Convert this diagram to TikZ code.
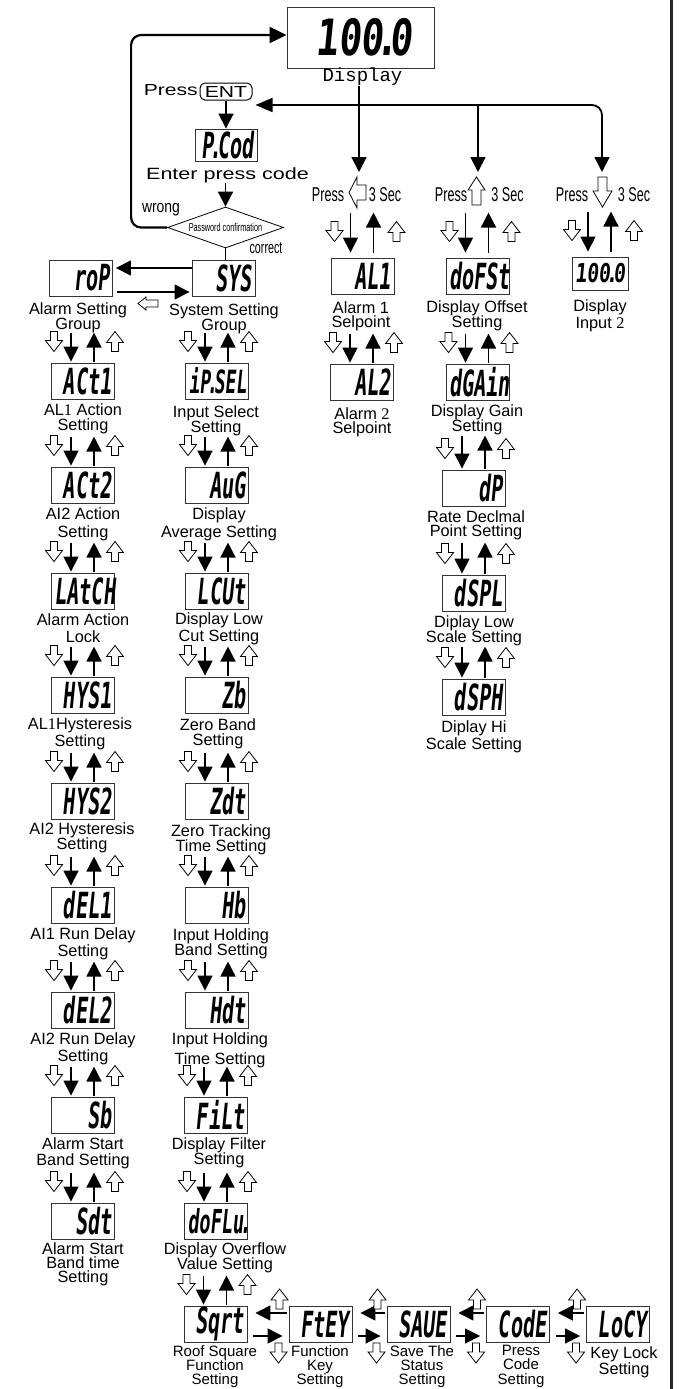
\documentclass[tikz,border=0pt]{standalone}
\usepackage{fontspec}
\setmainfont{Liberation Sans}
\newfontfamily\segf{DejaVu Sans Mono}[FakeStretch=0.56,FakeSlant=0.1]
\newfontfamily\segw{DejaVu Sans Mono}[FakeStretch=0.75,FakeSlant=0.1]
\newfontfamily\narf{Liberation Sans}[FakeStretch=0.63]
\newfontfamily\widf{Liberation Sans}[FakeStretch=1.32]
\newfontfamily\monof{Liberation Mono}
\newfontfamily\serf{Liberation Serif}
\usetikzlibrary{arrows.meta,shapes.geometric}

\newcommand\pdot{\hbox to 0.12em{\hss.\hss}}
\newcommand\lblfs{16.3}

\tikzset{
  every node/.style={inner sep=0pt},
  disp/.style={draw=black!80, line width=0.9pt, minimum height=36pt, inner xsep=3pt,
    text width=57pt, align=right, font={\segf\bfseries\fontsize{36}{36}\selectfont}},
  topdisp/.style={draw=black!80, line width=0.9pt, minimum height=61pt, inner xsep=22pt,
    text width=103pt, align=right, font={\segw\bfseries\fontsize{50}{50}\selectfont}},
  smalldisp/.style={draw=black!80, line width=0.9pt, minimum height=33pt, inner xsep=2pt,
    text width=52pt, align=center, font={\segw\bfseries\fontsize{26}{26}\selectfont}},
  lbl/.style={align=center},
  nar/.style={font={\narf\fontsize{20}{20}\selectfont}},
  blk/.style={line width=1.5pt, -{Triangle[width=15pt,length=15pt]}},
  med/.style={line width=1.8pt, -{Triangle[width=15pt,length=15pt]}},
  big/.style={line width=2.2pt, -{Triangle[width=16pt,length=17pt]}},
  hol/.style={draw=black, fill=white, line width=0.8pt, line join=miter},
  hdown/.pic={\draw[hol] (-3.5,0) -- (3.5,0) -- (3.5,9) -- (8.5,9) -- (0,20) -- (-8.5,9) -- (-3.5,9) -- cycle;},
  hup/.pic={\draw[hol] (0,0) -- (8.5,11) -- (3.5,11) -- (3.5,20) -- (-3.5,20) -- (-3.5,11) -- (-8.5,11) -- cycle;},
  hleft/.pic={\draw[hol] (0,0) -- (8,-6.5) -- (8,-3.5) -- (20,-3.5) -- (20,3.5) -- (8,3.5) -- (8,6.5) -- cycle;},
  kleft/.pic={\draw[hol] (0,0) -- (8,-15.5) -- (8,-7.5) -- (17,-7.5) -- (17,7.5) -- (8,7.5) -- (8,15.5) -- cycle;},
  kup/.pic={\draw[hol] (0,0) -- (8.5,13) -- (4.5,13) -- (4.5,28) -- (-4.5,28) -- (-4.5,13) -- (-8.5,13) -- cycle;},
  kdown/.pic={\draw[hol] (-4.5,0) -- (4.5,0) -- (4.5,14) -- (9.5,14) -- (0,30) -- (-9.5,14) -- (-4.5,14) -- cycle;},
}

% #1 baselineskip, #2 name, #3 x, #4 y, #5 display text, #6 label x, #7 label top, #8 label
\newcommand\mkunit[8][15.5]{%
  \node[disp] (#2) at (#3,#4) {#5};
  \node[lbl, anchor=north, font={\fontsize{\lblfs}{#1}\selectfont\lineskiplimit=-20pt}] (#2l) at (#6,#7) {#8};
}
\newcommand\vlink[2][30]{%
  \draw[blk] ([xshift=-12pt,yshift=#1pt]#2.north) -- ([xshift=-12pt,yshift=1pt]#2.north);
  \draw[blk] ([xshift=11pt,yshift=1pt]#2.north) -- ([xshift=11pt,yshift=#1pt]#2.north);
  \pic at ([xshift=-29pt,yshift=31pt]#2.north) {hdown};
  \pic at ([xshift=32pt,yshift=31pt]#2.north) {hup};
}
\newcommand\vlinktop[1]{%
  \draw[blk] ([xshift=-12pt,yshift=45pt]#1.north) -- ([xshift=-12pt,yshift=5pt]#1.north);
  \draw[blk] ([xshift=11pt,yshift=5pt]#1.north) -- ([xshift=11pt,yshift=45pt]#1.north);
  \pic at ([xshift=-28pt,yshift=36pt]#1.north) {hdown};
  \pic at ([xshift=34pt,yshift=36pt]#1.north) {hup};
}
\newcommand\hlink[2]{%
  \draw[blk, shorten <=2pt, shorten >=8pt] ([yshift=11pt]#2.west) -- ([yshift=11pt]#1.east);
  \draw[blk, shorten <=6pt, shorten >=6pt] ([yshift=-12pt]#1.east) -- ([yshift=-12pt]#2.west);
  \pic at ([xshift=-9pt,yshift=35pt]#2.west) {hup};
  \pic at ([xshift=-10pt,yshift=-19pt]#2.west) {hdown};
}

\begin{document}
\begin{tikzpicture}[x=1pt,y=-1pt]
\fill[white] (0,0) rectangle (683,1389);
\useasboundingbox (0,0) rectangle (683,1389);
\draw[line width=3pt, black!85] (671,0) -- (671,1389);

% ---------- top part ----------
\node[topdisp] (disp) at (360.5,37.5) {100\pdot0};
\node[font={\monof\fontsize{19}{19}\selectfont}] (dlab) at (362.5,77) {Display};
\node[font={\widf\fontsize{16}{16}\selectfont}, anchor=east] (press) at (198,90) {Press};
\node[draw, rounded corners=5pt, line width=1pt, minimum width=52pt, minimum height=17pt,
      font={\widf\fontsize{16}{16}\selectfont}] (ent) at (226,91.5) {ENT};
\node[disp, text width=56pt, minimum height=32pt] (pcod) at (226,145) {P\pdot Cod};
\node[font={\widf\fontsize{16.3}{16}\selectfont}] (epc) at (227.5,175) {Enter press code};
\node[diamond, draw, line width=0.8pt, minimum width=116pt, minimum height=41pt, aspect=2.8,
      font={\narf\fontsize{11.5}{11.5}\selectfont}] (dia) at (225.5,227.5) {Password confirmation};
\node[font={\fontsize{17}{17}\selectfont}] (wrong) at (161,210) {\scalebox{0.82}[1]{wrong}};
\node[font={\narf\fontsize{17}{17}\selectfont}] (correct) at (266,248) {correct};

\draw[med] (ent.south) -- (pcod.north);
\draw[med] (epc.south -| dia.north) -- (dia.north);
\draw[big, rounded corners=10pt] (dia.west) -- ++(-36,0) |- ([yshift=2.5pt]disp.west);

% press groups
\node[nar] (pr1) at (328,195) {Press};
\node[nar] (sec1) at (385,195) {3 Sec};
\pic at (349,192.5) {kleft};
\coordinate (k1) at (359,172);
\node[nar] (pr2) at (451,195) {Press};
\node[nar] (sec2) at (507.5,195) {3 Sec};
\pic at (476.5,177) {kup};
\coordinate (k2) at (478,172);
\node[nar] (pr3) at (572,195) {Press};
\node[nar] (sec3) at (634,195) {3 Sec};
\pic at (602.5,177) {kdown};
\coordinate (k3) at (602,172);
\coordinate (j2) at (478,105);

\draw[med] (dlab.south -| k1) -- (k1);
\draw[med] (j2) -- (k2);
\draw[med, {Triangle[width=14pt,length=17pt]}-{Triangle[width=15pt,length=15pt]}, rounded corners=10pt]
   ([xshift=3pt,yshift=-13.5pt]ent.east) -| (k3);

% ---------- left column ----------
\mkunit{roP}{81}{278}{roP}{78}{302}{Alarm Setting\\Group}
\mkunit{act1}{83}{381}{ACt1}{83}{403}{AL{\serf 1} Action\\Setting}
\mkunit[18]{act2}{83}{485}{ACt2}{83}{507}{AI2 Action\\Setting}
\mkunit[17]{latch}{83}{591}{LAtCH}{83}{613}{Alarm Action\\Lock}
\mkunit[17]{hys1}{83}{695}{HYS1}{80}{717}{AL{\serf 1}Hysteresis\\Setting}
\mkunit{hys2}{83}{801}{HYS2}{82}{822}{AI2 Hysteresis\\Setting}
\mkunit[17]{del1}{83}{905}{dEL1}{83}{927}{AI1 Run Delay\\Setting}
\mkunit[17]{del2}{83}{1010}{dEL2}{83}{1032}{AI2 Run Delay\\Setting}
\mkunit[16]{sb}{83}{1115}{Sb}{83}{1137}{Alarm Start\\Band Setting}
\mkunit[14]{sdt}{83}{1221}{Sdt}{83}{1242}{Alarm Start\\Band time\\Setting}

% ---------- right column ----------
\mkunit{sys}{223.5}{278}{SYS}{224}{303}{System Setting\\Group}
\mkunit{ipsel}{217}{381}{{\fontsize{32}{32}\selectfont iP\pdot SEL}}{216}{405}{Input Select\\Setting}
\mkunit[18]{aug}{217}{485}{AuG}{219}{507}{Display\\Average Setting}
\mkunit[17]{lcut}{217}{591}{LCUt}{219}{612}{Display Low\\Cut Setting}
\mkunit{zb}{217}{695}{Zb}{218}{718}{Zero Band\\Setting}
\mkunit{zdt}{217}{801}{Zdt}{221}{824}{Zero Tracking\\Time Setting}
\mkunit{hb}{217}{905}{Hb}{221}{928}{Input Holding\\Band Setting}
\mkunit[20]{hdt}{217}{1010}{Hdt}{220}{1032}{Input Holding\\Time Setting}
\mkunit{filt}{216}{1115}{FiLt}{219}{1137}{Display Filter\\Setting}
\mkunit{dofl}{216}{1221}{{\fontsize{33}{33}\selectfont doFLu\pdot}}{225}{1242}{Display Overflow\\Value Setting}

\draw[blk, shorten >=3pt] ([yshift=10pt]sys.west) -- ([yshift=10pt]roP.east);
\draw[blk, shorten <=4pt, shorten >=2pt] ([yshift=-14pt]roP.east) -- ([yshift=-14pt]sys.west);
\pic at (138,303.5) {hleft};
\draw[line width=1pt] (dia.south) -- (dia.south |- sys.north);

% ---------- upper columns ----------
\mkunit[14]{al1}{362.5}{276}{AL1}{361}{301}{Alarm 1\\Selpoint}
\mkunit[14]{al2}{362}{382}{AL2}{362}{407}{Alarm {\serf 2}\\Selpoint}
\mkunit{dofst}{477.5}{276}{doFSt}{477}{300}{Display Offset\\Setting}
\mkunit{dgain}{477.5}{382}{dGAin}{477}{404}{Display Gain\\Setting}
\mkunit[14]{dp}{474}{488}{dP}{476}{510}{Rate Declmal\\Point Setting}
\mkunit[15.5]{dspl}{474}{593}{dSPL}{474}{615}{Diplay Low\\Scale Setting}
\mkunit[17]{dsph}{474}{697}{dSPH}{474}{720}{Diplay Hi\\Scale Setting}
\node[smalldisp] (in2) at (600,273.5) {100\pdot0};
\node[lbl, anchor=north, font={\fontsize{16.3}{17}\selectfont}] (in2l) at (600,299) {Display\\Input {\serf 2}};

\vlinktop{al1}
\vlink{al2}
\vlinktop{dofst}
\vlink{dgain}
\vlink[34]{dp}
\vlink[32]{dspl}
\vlink[32]{dsph}
\vlinktop{in2}

% ---------- bottom row ----------
\renewcommand\lblfs{15}
\mkunit[14.3]{sqrt}{215.5}{1324}{Sqrt}{215}{1345}{Roof Square\\Function\\Setting}
\mkunit[14.3]{ftey}{320.5}{1324}{FtEY}{320}{1345}{Function\\Key\\Setting}
\mkunit[14.3]{saue}{418.5}{1324}{SAUE}{422}{1345}{Save The\\Status\\Setting}
\mkunit[14.3]{code}{518}{1324}{CodE}{521}{1345}{Press\\Code\\Setting}
\renewcommand\lblfs{16.3}
\mkunit[16]{lock}{618}{1324}{LoCY}{624}{1346}{Key Lock\\Setting}

% ---------- column links ----------
\vlink{act1}\vlink{act2}\vlink{latch}\vlink{hys1}\vlink{hys2}
\vlink{del1}\vlink{del2}\vlink{sb}\vlink{sdt}
\vlink{ipsel}\vlink{aug}\vlink{lcut}\vlink{zb}\vlink{zdt}
\vlink{hb}\vlink{hdt}\vlink{filt}\vlink{dofl}\vlink{sqrt}

\hlink{sqrt}{ftey}
\hlink{ftey}{saue}
\hlink{saue}{code}
\hlink{code}{lock}
\end{tikzpicture}
\end{document}
